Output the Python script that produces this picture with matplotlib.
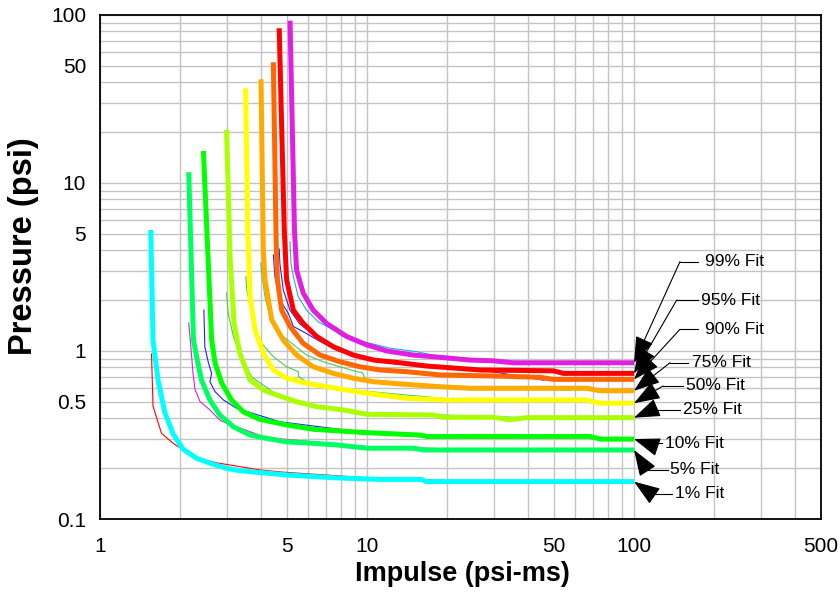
import matplotlib
matplotlib.use('Agg')
import matplotlib.pyplot as plt
from matplotlib.ticker import LogLocator, FuncFormatter

# fitted P-I curves, impulse (psi-ms) vs pressure (psi)
fit01_imp = [1.55, 1.58, 1.65, 1.75, 1.88, 2.05, 2.30, 2.58, 2.98, 3.34, 3.97, 5.0, 6.3, 7.5, 11.2, 16.0, 16.7, 100]
fit01_psi = [5.25, 1.16, 0.67, 0.43, 0.32, 0.26, 0.23, 0.215, 0.20, 0.194, 0.189, 0.183, 0.179, 0.176, 0.172, 0.172, 0.167, 0.167]
fit05_imp = [2.15, 2.24, 2.30, 2.40, 2.58, 2.81, 3.16, 3.65, 4.21, 5.0, 6.3, 7.7, 10.0, 14.9, 16.3, 100]
fit05_psi = [11.6, 1.16, 0.925, 0.671, 0.511, 0.416, 0.354, 0.316, 0.302, 0.288, 0.282, 0.276, 0.264, 0.264, 0.2575, 0.2575]
fit10_imp = [2.44, 2.62, 2.70, 2.86, 3.11, 3.44, 3.97, 5.0, 6.3, 7.7, 10.0, 15.8, 16.7, 68, 75, 100]
fit10_psi = [15.5, 1.16, 0.845, 0.642, 0.511, 0.435, 0.392, 0.363, 0.342, 0.335, 0.3265, 0.316, 0.31, 0.31, 0.299, 0.299]
fit25_imp = [2.98, 3.07, 3.18, 3.34, 3.65, 4.09, 4.59, 5.45, 6.48, 8.15, 10.0, 17.7, 19.3, 29.7, 34.3, 39.6, 100]
fit25_psi = [20.7, 3.64, 1.45, 0.97, 0.671, 0.586, 0.547, 0.499, 0.466, 0.446, 0.42, 0.416, 0.403, 0.403, 0.39, 0.401, 0.401]
fit50_imp = [3.51, 3.58, 3.65, 3.81, 4.09, 4.46, 5.0, 5.94, 7.06, 8.39, 10.0, 14.1, 19.9, 66.5, 74.6, 100]
fit50_psi = [36.6, 5.0, 2.1, 1.33, 0.97, 0.77, 0.69, 0.642, 0.613, 0.586, 0.56, 0.523, 0.511, 0.511, 0.489, 0.489]
fit75_imp = [4.01, 4.09, 4.15, 4.40, 4.86, 5.45, 6.29, 7.48, 8.89, 10.6, 13.3, 18.8, 24.3, 66.5, 74.6, 100]
fit75_psi = [41.4, 4.0, 2.65, 1.53, 1.16, 0.946, 0.806, 0.736, 0.688, 0.656, 0.637, 0.613, 0.60, 0.60, 0.58, 0.58]
fit90_imp = [4.46, 4.57, 4.62, 4.79, 5.15, 5.77, 6.67, 7.92, 9.41, 11.2, 14.1, 18.8, 30, 44.5, 49.9, 100]
fit90_psi = [52.3, 4.4, 2.65, 1.75, 1.40, 1.11, 0.946, 0.863, 0.806, 0.771, 0.753, 0.72, 0.71, 0.697, 0.678, 0.678]
fit95_imp = [4.69, 4.90, 5.0, 5.30, 5.77, 6.48, 7.48, 8.89, 10.6, 13.3, 16.7, 26.5, 49.9, 54.4, 100]
fit95_psi = [83.4, 5.25, 2.65, 1.75, 1.46, 1.22, 1.06, 0.946, 0.883, 0.851, 0.814, 0.771, 0.762, 0.736, 0.736]
fit99_imp = [5.15, 5.35, 5.45, 5.77, 6.29, 7.06, 8.39, 10.0, 11.9, 14.9, 18.8, 24.3, 29.7, 35.3, 100]
fit99_psi = [92.5, 5.25, 3.03, 2.21, 1.75, 1.46, 1.22, 1.086, 1.0, 0.946, 0.917, 0.883, 0.874, 0.851, 0.851]

# thin underlying data traces
raw_red_imp = [1.56, 1.58, 1.63, 1.70, 1.88, 2.05, 2.30, 2.74, 3.34, 3.97, 4.86, 10, 25]
raw_red_psi = [0.96, 0.47, 0.40, 0.324, 0.282, 0.258, 0.232, 0.216, 0.205, 0.196, 0.190, 0.176, 0.168]
raw_mag_imp = [2.15, 2.19, 2.23, 2.27, 2.37, 2.58, 2.81, 3.07, 3.25, 4.08, 4.72, 10, 30]
raw_mag_psi = [1.47, 1.06, 0.74, 0.59, 0.50, 0.446, 0.388, 0.363, 0.354, 0.31, 0.30, 0.27, 0.257]
raw_blue1_imp = [2.45, 2.47, 2.55, 2.62, 2.58, 2.70, 2.90, 3.25, 4.72, 10, 15.8, 34]
raw_blue1_psi = [1.75, 1.06, 0.845, 0.736, 0.656, 0.572, 0.511, 0.456, 0.379, 0.3265, 0.309, 0.302]
raw_grn1_imp = [2.98, 3.02, 3.16, 3.34, 3.7, 4.72, 5.61, 8.39, 20, 42]
raw_grn1_psi = [2.21, 1.68, 1.22, 0.97, 0.70, 0.535, 0.489, 0.435, 0.415, 0.40]
raw_grn2_imp = [3.52, 3.54, 3.65, 3.81, 4.03, 4.46, 5.0, 5.53, 5.55, 5.94, 8.39, 20, 50]
raw_grn2_psi = [2.77, 2.36, 1.84, 1.33, 1.11, 0.925, 0.806, 0.753, 0.703, 0.656, 0.59, 0.52, 0.505]
raw_grn3_imp = [4.00, 4.03, 4.15, 4.33, 4.72, 5.30, 5.94, 6.86, 7.92, 9.15, 9.6, 9.83, 10.6, 20, 45, 58]
raw_grn3_psi = [3.33, 2.90, 2.10, 1.60, 1.27, 1.09, 0.946, 0.863, 0.806, 0.753, 0.745, 0.688, 0.656, 0.62, 0.59, 0.585]
raw_blue2_imp = [4.46, 4.52, 4.72, 5.07, 5.30, 5.94, 6.67, 7.70, 9.15, 10.9, 14.1, 19.3, 30, 46]
raw_blue2_psi = [3.73, 2.77, 2.01, 1.68, 1.40, 1.27, 1.14, 1.01, 0.925, 0.863, 0.826, 0.806, 0.75, 0.67]
raw_blue3_imp = [4.69, 4.72, 4.86, 5.15, 5.6, 6.5, 7.5, 9, 11, 15, 20, 30, 50]
raw_blue3_psi = [4.05, 3.3, 2.3, 1.75, 1.45, 1.2, 1.05, 0.94, 0.88, 0.83, 0.80, 0.77, 0.76]
raw_lblue_imp = [5.15, 5.19, 5.30, 5.53, 5.94, 6.57, 7.27, 8.15, 9.15, 10.3, 12.2, 15.4, 18.2, 25]
raw_lblue_psi = [4.47, 3.33, 2.77, 2.10, 1.75, 1.49, 1.37, 1.22, 1.16, 1.11, 1.04, 0.99, 0.934, 0.89]

fit_labels = ['1% Fit', '5% Fit', '10% Fit', '25% Fit', '50% Fit', '75% Fit', '90% Fit', '95% Fit', '99% Fit']

x_ticks = [1, 5, 10, 50, 100, 500]
y_ticks = [0.1, 0.5, 1, 5, 10, 50, 100]

fits = [(fit01_imp, fit01_psi), (fit05_imp, fit05_psi), (fit10_imp, fit10_psi),
        (fit25_imp, fit25_psi), (fit50_imp, fit50_psi), (fit75_imp, fit75_psi),
        (fit90_imp, fit90_psi), (fit95_imp, fit95_psi), (fit99_imp, fit99_psi)]
fit_colors = ['#00ffff', '#00ff60', '#00ff00', '#aaff00', '#ffff00',
              '#ffaa00', '#ff6600', '#ff0000', '#e020e0']

raws = [(raw_red_imp, raw_red_psi, '#ff0000'), (raw_mag_imp, raw_mag_psi, '#dd22dd'),
        (raw_blue1_imp, raw_blue1_psi, '#2020ff'), (raw_grn1_imp, raw_grn1_psi, '#50c850'),
        (raw_grn2_imp, raw_grn2_psi, '#50c850'), (raw_grn3_imp, raw_grn3_psi, '#50c850'),
        (raw_blue2_imp, raw_blue2_psi, '#2020ff'), (raw_blue3_imp, raw_blue3_psi, '#2020ff'),
        (raw_lblue_imp, raw_lblue_psi, '#20aaff')]

# label placement: knee x, end of leader x, text x, y
label_pos = [(116.5, 138.4, 142.4, 0.141), (111.6, 134.4, 136.4, 0.196),
             (111.6, 127.0, 130.7, 0.282), (116.8, 148.6, 152.6, 0.446),
             (128.4, 152.6, 156.6, 0.619), (136.4, 159.3, 164.9, 0.851),
             (148.6, 173.7, 184.5, 1.346), (144.5, 173.7, 178.2, 2.01),
             (148.6, 173.7, 184.5, 3.40)]

plt.rcParams['font.family'] = ['Liberation Sans', 'DejaVu Sans']

fig = plt.figure(figsize=(8.4, 5.92), dpi=100)
ax = fig.add_axes([0.119, 0.1233, 0.858, 0.8514])
ax.set_xscale('log')
ax.set_yscale('log')
ax.set_xlim(1, 500)
ax.set_ylim(0.1, 100)

for xs, ys, c in raws:
    ax.plot(xs, ys, color=c, lw=0.8, zorder=2)
for (xs, ys), c in zip(fits, fit_colors):
    ax.plot(xs, ys, color=c, lw=3.6, zorder=3, solid_capstyle='butt')

for (xs, ys), lab, (kx, lx, tx, ty) in zip(fits, fit_labels, label_pos):
    ax.annotate('', xy=(xs[-1], ys[-1]), xytext=(kx, ty),
                arrowprops=dict(arrowstyle='-|>,head_length=0.75,head_width=0.27',
                                color='black', lw=0.8, shrinkA=0, shrinkB=0,
                                mutation_scale=22), zorder=5)
    ax.plot([kx, lx], [ty, ty], color='black', lw=0.8, zorder=5)
    ax.text(tx, ty, lab, fontsize=12.5, va='center', ha='left', zorder=5)

ax.xaxis.set_major_locator(plt.FixedLocator(x_ticks))
ax.yaxis.set_major_locator(plt.FixedLocator(y_ticks))
ax.xaxis.set_minor_locator(LogLocator(base=10, subs=(2, 3, 4, 6, 7, 8, 9), numticks=20))
ax.yaxis.set_minor_locator(LogLocator(base=10, subs=(2, 3, 4, 6, 7, 8, 9), numticks=20))
fmt = FuncFormatter(lambda v, p: '%g' % v)
ax.xaxis.set_major_formatter(fmt)
ax.yaxis.set_major_formatter(fmt)
ax.xaxis.set_minor_formatter(plt.NullFormatter())
ax.yaxis.set_minor_formatter(plt.NullFormatter())
ax.tick_params(which='both', length=0, labelsize=15)
ax.tick_params(axis='x', pad=13)
ax.tick_params(axis='y', pad=10)

ax.grid(True, which='both', color='#c4c4c4', lw=1.0)
ax.set_axisbelow(True)
for s in ax.spines.values():
    s.set_color('black')
    s.set_linewidth(1.3)

ax.set_xlabel('Impulse (psi-ms)', fontsize=19.5, fontweight='bold')
ax.xaxis.set_label_coords(0.503, -0.083)
ax.set_ylabel('Pressure (psi)', fontsize=23.5, fontweight='bold')
ax.yaxis.set_label_coords(-0.084, 0.541)

fig.savefig('out.png', dpi=100)
